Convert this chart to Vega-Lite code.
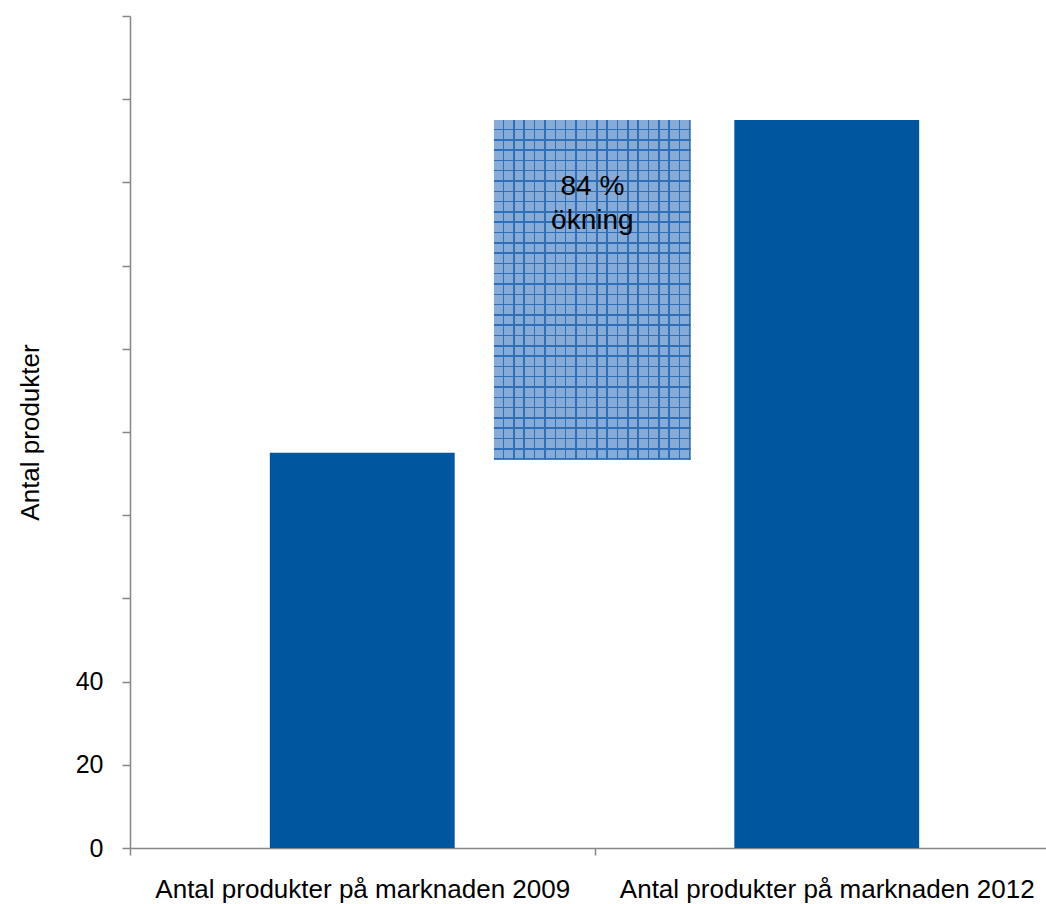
{
  "$schema": "https://vega.github.io/schema/vega-lite/v6.json",
  "autosize": {"type": "none"},
  "width": 916,
  "height": 832,
  "padding": {"left": 130, "top": 16, "right": 0, "bottom": 56},
  "background": "white",
  "config": {
    "view": {"stroke": null},
    "font": "Liberation Sans",
    "axis": {
      "domainColor": "#868686",
      "domainWidth": 1.5,
      "tickColor": "#868686",
      "tickWidth": 1.5,
      "tickSize": 8,
      "grid": false,
      "labelColor": "#000000",
      "labelFont": "Liberation Sans",
      "titleFont": "Liberation Sans",
      "titleColor": "#000000",
      "titleFontWeight": "normal"
    }
  },
  "datasets": {
    "staplar": [
      {"kategori": "Antal produkter på marknaden 2009", "antal": 95},
      {"kategori": "Antal produkter på marknaden 2012", "antal": 175}
    ],
    "okning": [
      {"fran_x": 0.7836, "till_x": 1.2071, "fran": 93.3, "till": 175, "etikett": "84 %\nökning", "mitt_x": 0.9954}
    ]
  },
  "encoding": {
    "y": {
      "type": "quantitative",
      "scale": {"domain": [0, 200], "nice": false, "zero": true}
    }
  },
  "layer": [
    {
      "data": {"name": "staplar"},
      "mark": {"type": "bar", "color": "#01579f", "width": {"band": 0.398}},
      "encoding": {
        "x": {
          "field": "kategori",
          "type": "nominal",
          "sort": null,
          "scale": {"range": [0, 929], "paddingInner": 0, "paddingOuter": 0},
          "axis": {
            "title": null,
            "labelAngle": 0,
            "labelFontSize": 26,
            "labelPadding": 21,
            "tickSize": 7,
            "tickBand": "extent",
            "labelLimit": 0
          }
        },
        "y": {
          "field": "antal",
          "type": "quantitative",
          "axis": {
            "values": [0, 20, 40, 60, 80, 100, 120, 140, 160, 180, 200],
            "labelExpr": "datum.value <= 40 ? datum.label : ''",
            "labelFontSize": 25,
            "labelPadding": 19,
            "title": "Antal produkter",
            "titleFontSize": 26,
            "titlePadding": 32
          }
        }
      }
    },
    {
      "data": {"name": "okning"},
      "mark": {
        "type": "rect",
        "fill": {
          "gradient": "linear", "x1": 0, "y1": 0, "x2": 1, "y2": 0,
          "stops": [
            {"offset": 0, "color": "#86abd7"},
            {"offset": 0.0446, "color": "#86abd7"}, {"offset": 0.0446, "color": "#2f6fb5"}, {"offset": 0.0526, "color": "#2f6fb5"}, {"offset": 0.0526, "color": "#86abd7"},
            {"offset": 0.0973, "color": "#86abd7"}, {"offset": 0.0973, "color": "#2f6fb5"}, {"offset": 0.1053, "color": "#2f6fb5"}, {"offset": 0.1053, "color": "#86abd7"},
            {"offset": 0.1499, "color": "#86abd7"}, {"offset": 0.1499, "color": "#2f6fb5"}, {"offset": 0.1579, "color": "#2f6fb5"}, {"offset": 0.1579, "color": "#86abd7"},
            {"offset": 0.2025, "color": "#86abd7"}, {"offset": 0.2025, "color": "#2f6fb5"}, {"offset": 0.2105, "color": "#2f6fb5"}, {"offset": 0.2105, "color": "#86abd7"},
            {"offset": 0.2552, "color": "#86abd7"}, {"offset": 0.2552, "color": "#2f6fb5"}, {"offset": 0.2632, "color": "#2f6fb5"}, {"offset": 0.2632, "color": "#86abd7"},
            {"offset": 0.3078, "color": "#86abd7"}, {"offset": 0.3078, "color": "#2f6fb5"}, {"offset": 0.3158, "color": "#2f6fb5"}, {"offset": 0.3158, "color": "#86abd7"},
            {"offset": 0.3604, "color": "#86abd7"}, {"offset": 0.3604, "color": "#2f6fb5"}, {"offset": 0.3684, "color": "#2f6fb5"}, {"offset": 0.3684, "color": "#86abd7"},
            {"offset": 0.4131, "color": "#86abd7"}, {"offset": 0.4131, "color": "#2f6fb5"}, {"offset": 0.4211, "color": "#2f6fb5"}, {"offset": 0.4211, "color": "#86abd7"},
            {"offset": 0.4657, "color": "#86abd7"}, {"offset": 0.4657, "color": "#2f6fb5"}, {"offset": 0.4737, "color": "#2f6fb5"}, {"offset": 0.4737, "color": "#86abd7"},
            {"offset": 0.5183, "color": "#86abd7"}, {"offset": 0.5183, "color": "#2f6fb5"}, {"offset": 0.5263, "color": "#2f6fb5"}, {"offset": 0.5263, "color": "#86abd7"},
            {"offset": 0.5709, "color": "#86abd7"}, {"offset": 0.5709, "color": "#2f6fb5"}, {"offset": 0.5789, "color": "#2f6fb5"}, {"offset": 0.5789, "color": "#86abd7"},
            {"offset": 0.6236, "color": "#86abd7"}, {"offset": 0.6236, "color": "#2f6fb5"}, {"offset": 0.6316, "color": "#2f6fb5"}, {"offset": 0.6316, "color": "#86abd7"},
            {"offset": 0.6762, "color": "#86abd7"}, {"offset": 0.6762, "color": "#2f6fb5"}, {"offset": 0.6842, "color": "#2f6fb5"}, {"offset": 0.6842, "color": "#86abd7"},
            {"offset": 0.7288, "color": "#86abd7"}, {"offset": 0.7288, "color": "#2f6fb5"}, {"offset": 0.7368, "color": "#2f6fb5"}, {"offset": 0.7368, "color": "#86abd7"},
            {"offset": 0.7815, "color": "#86abd7"}, {"offset": 0.7815, "color": "#2f6fb5"}, {"offset": 0.7895, "color": "#2f6fb5"}, {"offset": 0.7895, "color": "#86abd7"},
            {"offset": 0.8341, "color": "#86abd7"}, {"offset": 0.8341, "color": "#2f6fb5"}, {"offset": 0.8421, "color": "#2f6fb5"}, {"offset": 0.8421, "color": "#86abd7"},
            {"offset": 0.8867, "color": "#86abd7"}, {"offset": 0.8867, "color": "#2f6fb5"}, {"offset": 0.8947, "color": "#2f6fb5"}, {"offset": 0.8947, "color": "#86abd7"},
            {"offset": 0.9394, "color": "#86abd7"}, {"offset": 0.9394, "color": "#2f6fb5"}, {"offset": 0.9474, "color": "#2f6fb5"}, {"offset": 0.9474, "color": "#86abd7"},
            {"offset": 0.992, "color": "#86abd7"}, {"offset": 0.992, "color": "#2f6fb5"}, {"offset": 1, "color": "#2f6fb5"}
          ]
        }
      },
      "encoding": {
        "x": {"field": "fran_x", "type": "quantitative", "scale": {"domain": [0, 2], "range": [0, 929], "nice": false, "zero": false}, "axis": null},
        "x2": {"field": "till_x"},
        "y": {"field": "fran", "type": "quantitative"},
        "y2": {"field": "till"}
      }
    },
    {
      "data": {"name": "okning"},
      "mark": {
        "type": "rect",
        "fill": {
          "gradient": "linear", "x1": 0, "y1": 0, "x2": 0, "y2": 1,
          "stops": [
            {"offset": 0, "color": "rgba(47,111,181,0)"},
            {"offset": 0.0258, "color": "rgba(47,111,181,0)"}, {"offset": 0.0258, "color": "#2f6fb5"}, {"offset": 0.0303, "color": "#2f6fb5"}, {"offset": 0.0303, "color": "rgba(47,111,181,0)"},
            {"offset": 0.0561, "color": "rgba(47,111,181,0)"}, {"offset": 0.0561, "color": "#2f6fb5"}, {"offset": 0.0606, "color": "#2f6fb5"}, {"offset": 0.0606, "color": "rgba(47,111,181,0)"},
            {"offset": 0.0864, "color": "rgba(47,111,181,0)"}, {"offset": 0.0864, "color": "#2f6fb5"}, {"offset": 0.0909, "color": "#2f6fb5"}, {"offset": 0.0909, "color": "rgba(47,111,181,0)"},
            {"offset": 0.1167, "color": "rgba(47,111,181,0)"}, {"offset": 0.1167, "color": "#2f6fb5"}, {"offset": 0.1212, "color": "#2f6fb5"}, {"offset": 0.1212, "color": "rgba(47,111,181,0)"},
            {"offset": 0.1470, "color": "rgba(47,111,181,0)"}, {"offset": 0.1470, "color": "#2f6fb5"}, {"offset": 0.1515, "color": "#2f6fb5"}, {"offset": 0.1515, "color": "rgba(47,111,181,0)"},
            {"offset": 0.1773, "color": "rgba(47,111,181,0)"}, {"offset": 0.1773, "color": "#2f6fb5"}, {"offset": 0.1818, "color": "#2f6fb5"}, {"offset": 0.1818, "color": "rgba(47,111,181,0)"},
            {"offset": 0.2076, "color": "rgba(47,111,181,0)"}, {"offset": 0.2076, "color": "#2f6fb5"}, {"offset": 0.2121, "color": "#2f6fb5"}, {"offset": 0.2121, "color": "rgba(47,111,181,0)"},
            {"offset": 0.2379, "color": "rgba(47,111,181,0)"}, {"offset": 0.2379, "color": "#2f6fb5"}, {"offset": 0.2424, "color": "#2f6fb5"}, {"offset": 0.2424, "color": "rgba(47,111,181,0)"},
            {"offset": 0.2682, "color": "rgba(47,111,181,0)"}, {"offset": 0.2682, "color": "#2f6fb5"}, {"offset": 0.2727, "color": "#2f6fb5"}, {"offset": 0.2727, "color": "rgba(47,111,181,0)"},
            {"offset": 0.2985, "color": "rgba(47,111,181,0)"}, {"offset": 0.2985, "color": "#2f6fb5"}, {"offset": 0.3030, "color": "#2f6fb5"}, {"offset": 0.3030, "color": "rgba(47,111,181,0)"},
            {"offset": 0.3288, "color": "rgba(47,111,181,0)"}, {"offset": 0.3288, "color": "#2f6fb5"}, {"offset": 0.3333, "color": "#2f6fb5"}, {"offset": 0.3333, "color": "rgba(47,111,181,0)"},
            {"offset": 0.3591, "color": "rgba(47,111,181,0)"}, {"offset": 0.3591, "color": "#2f6fb5"}, {"offset": 0.3636, "color": "#2f6fb5"}, {"offset": 0.3636, "color": "rgba(47,111,181,0)"},
            {"offset": 0.3894, "color": "rgba(47,111,181,0)"}, {"offset": 0.3894, "color": "#2f6fb5"}, {"offset": 0.3939, "color": "#2f6fb5"}, {"offset": 0.3939, "color": "rgba(47,111,181,0)"},
            {"offset": 0.4197, "color": "rgba(47,111,181,0)"}, {"offset": 0.4197, "color": "#2f6fb5"}, {"offset": 0.4242, "color": "#2f6fb5"}, {"offset": 0.4242, "color": "rgba(47,111,181,0)"},
            {"offset": 0.4500, "color": "rgba(47,111,181,0)"}, {"offset": 0.4500, "color": "#2f6fb5"}, {"offset": 0.4545, "color": "#2f6fb5"}, {"offset": 0.4545, "color": "rgba(47,111,181,0)"},
            {"offset": 0.4803, "color": "rgba(47,111,181,0)"}, {"offset": 0.4803, "color": "#2f6fb5"}, {"offset": 0.4848, "color": "#2f6fb5"}, {"offset": 0.4848, "color": "rgba(47,111,181,0)"},
            {"offset": 0.5107, "color": "rgba(47,111,181,0)"}, {"offset": 0.5107, "color": "#2f6fb5"}, {"offset": 0.5152, "color": "#2f6fb5"}, {"offset": 0.5152, "color": "rgba(47,111,181,0)"},
            {"offset": 0.5410, "color": "rgba(47,111,181,0)"}, {"offset": 0.5410, "color": "#2f6fb5"}, {"offset": 0.5455, "color": "#2f6fb5"}, {"offset": 0.5455, "color": "rgba(47,111,181,0)"},
            {"offset": 0.5713, "color": "rgba(47,111,181,0)"}, {"offset": 0.5713, "color": "#2f6fb5"}, {"offset": 0.5758, "color": "#2f6fb5"}, {"offset": 0.5758, "color": "rgba(47,111,181,0)"},
            {"offset": 0.6016, "color": "rgba(47,111,181,0)"}, {"offset": 0.6016, "color": "#2f6fb5"}, {"offset": 0.6061, "color": "#2f6fb5"}, {"offset": 0.6061, "color": "rgba(47,111,181,0)"},
            {"offset": 0.6319, "color": "rgba(47,111,181,0)"}, {"offset": 0.6319, "color": "#2f6fb5"}, {"offset": 0.6364, "color": "#2f6fb5"}, {"offset": 0.6364, "color": "rgba(47,111,181,0)"},
            {"offset": 0.6622, "color": "rgba(47,111,181,0)"}, {"offset": 0.6622, "color": "#2f6fb5"}, {"offset": 0.6667, "color": "#2f6fb5"}, {"offset": 0.6667, "color": "rgba(47,111,181,0)"},
            {"offset": 0.6925, "color": "rgba(47,111,181,0)"}, {"offset": 0.6925, "color": "#2f6fb5"}, {"offset": 0.6970, "color": "#2f6fb5"}, {"offset": 0.6970, "color": "rgba(47,111,181,0)"},
            {"offset": 0.7228, "color": "rgba(47,111,181,0)"}, {"offset": 0.7228, "color": "#2f6fb5"}, {"offset": 0.7273, "color": "#2f6fb5"}, {"offset": 0.7273, "color": "rgba(47,111,181,0)"},
            {"offset": 0.7531, "color": "rgba(47,111,181,0)"}, {"offset": 0.7531, "color": "#2f6fb5"}, {"offset": 0.7576, "color": "#2f6fb5"}, {"offset": 0.7576, "color": "rgba(47,111,181,0)"},
            {"offset": 0.7834, "color": "rgba(47,111,181,0)"}, {"offset": 0.7834, "color": "#2f6fb5"}, {"offset": 0.7879, "color": "#2f6fb5"}, {"offset": 0.7879, "color": "rgba(47,111,181,0)"},
            {"offset": 0.8137, "color": "rgba(47,111,181,0)"}, {"offset": 0.8137, "color": "#2f6fb5"}, {"offset": 0.8182, "color": "#2f6fb5"}, {"offset": 0.8182, "color": "rgba(47,111,181,0)"},
            {"offset": 0.8440, "color": "rgba(47,111,181,0)"}, {"offset": 0.8440, "color": "#2f6fb5"}, {"offset": 0.8485, "color": "#2f6fb5"}, {"offset": 0.8485, "color": "rgba(47,111,181,0)"},
            {"offset": 0.8743, "color": "rgba(47,111,181,0)"}, {"offset": 0.8743, "color": "#2f6fb5"}, {"offset": 0.8788, "color": "#2f6fb5"}, {"offset": 0.8788, "color": "rgba(47,111,181,0)"},
            {"offset": 0.9046, "color": "rgba(47,111,181,0)"}, {"offset": 0.9046, "color": "#2f6fb5"}, {"offset": 0.9091, "color": "#2f6fb5"}, {"offset": 0.9091, "color": "rgba(47,111,181,0)"},
            {"offset": 0.9349, "color": "rgba(47,111,181,0)"}, {"offset": 0.9349, "color": "#2f6fb5"}, {"offset": 0.9394, "color": "#2f6fb5"}, {"offset": 0.9394, "color": "rgba(47,111,181,0)"},
            {"offset": 0.9652, "color": "rgba(47,111,181,0)"}, {"offset": 0.9652, "color": "#2f6fb5"}, {"offset": 0.9697, "color": "#2f6fb5"}, {"offset": 0.9697, "color": "rgba(47,111,181,0)"},
            {"offset": 0.9955, "color": "rgba(47,111,181,0)"}, {"offset": 0.9955, "color": "#2f6fb5"}, {"offset": 1, "color": "#2f6fb5"}
          ]
        }
      },
      "encoding": {
        "x": {"field": "fran_x", "type": "quantitative", "scale": {"domain": [0, 2], "range": [0, 929], "nice": false, "zero": false}, "axis": null},
        "x2": {"field": "till_x"},
        "y": {"field": "fran", "type": "quantitative"},
        "y2": {"field": "till"}
      }
    },
    {
      "data": {"name": "okning"},
      "mark": {
        "type": "text",
        "font": "Liberation Sans",
        "fontSize": 28,
        "lineHeight": 34,
        "lineBreak": "\n",
        "align": "center",
        "baseline": "top",
        "dy": 53,
        "color": "#000000"
      },
      "encoding": {
        "x": {"field": "mitt_x", "type": "quantitative", "scale": {"domain": [0, 2], "range": [0, 929], "nice": false, "zero": false}, "axis": null},
        "y": {"field": "till", "type": "quantitative"},
        "text": {"field": "etikett"}
      }
    }
  ],
  "resolve": {"scale": {"x": "independent"}}
}
